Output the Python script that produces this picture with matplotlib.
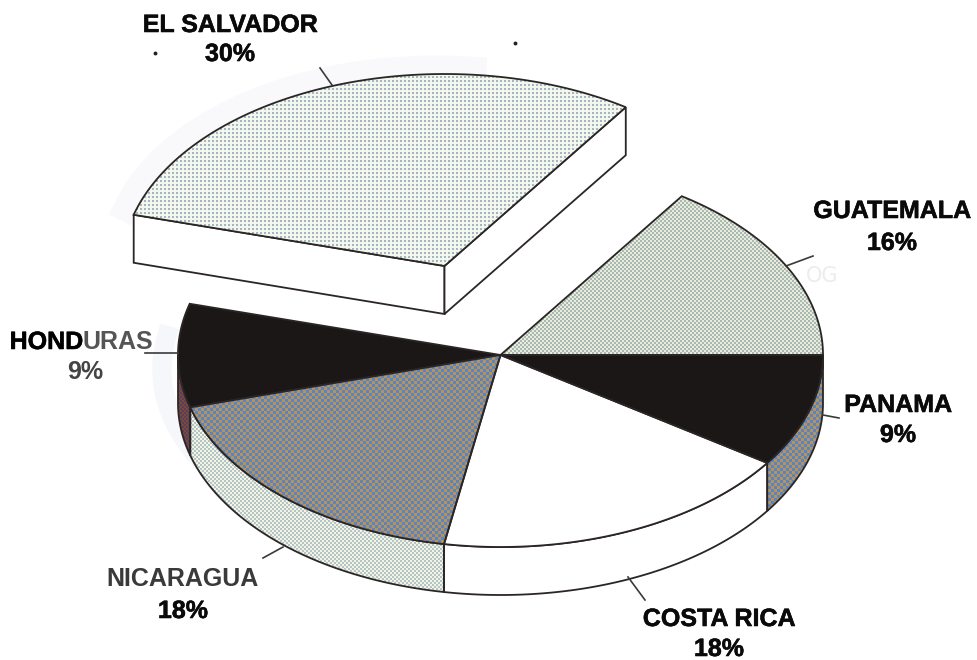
import numpy as np
import matplotlib
matplotlib.use("Agg")
import matplotlib.pyplot as plt
import matplotlib.patheffects as pe
from matplotlib.patches import Polygon

# slices in drawing order, counter clockwise from east
countries = ["GUATEMALA", "EL SALVADOR", "HONDURAS", "NICARAGUA", "COSTA RICA", "PANAMA"]
percent_labels = ["16%", "30%", "9%", "18%", "18%", "9%"]
shares = [15.5, 30.2, 8.7, 17.8, 18.3, 9.5]
exploded = "EL SALVADOR"

W, H = 978, 660
cx, cy, rx, ry = 500.5, 355, 322.5, 192
depth = 48
explode_dx, explode_dy = -56, -89
ink = "#2b2526"

top_style = {"GUATEMALA": "light", "EL SALVADOR": "dots", "HONDURAS": "black",
             "NICARAGUA": "mixed", "COSTA RICA": "white", "PANAMA": "black"}
side_style = {"HONDURAS": "dark", "NICARAGUA": "pale", "COSTA RICA": "white", "PANAMA": "mixed"}


def screen(period, a, b):
    """Two colour dither covering the whole canvas"""
    yy, xx = np.mgrid[0:H, 0:W]
    mask = ((xx // period + yy // period) % 2 == 0)[..., None]
    return mask * np.array(matplotlib.colors.to_rgb(a)) + (~mask) * np.array(matplotlib.colors.to_rgb(b))


def dot_screen(period, a, b):
    yy, xx = np.mgrid[0:H, 0:W]
    mask = ((xx % period < 2) & (yy % period < 2))[..., None]
    return mask * np.array(matplotlib.colors.to_rgb(a)) + (~mask) * np.array(matplotlib.colors.to_rgb(b))


textures = {
    "light": screen(2, "#a9b8b4", "#e8eeda"),
    "pale": screen(2, "#b4c4c8", "#f2f5e2"),
    "mixed": screen(3, "#5585c4", "#bc9258"),
    "dots": dot_screen(4, "#a3b6c2", "#f4f7ee"),
    "dark": screen(2, "#5a3f5c", "#7a4a3a"),
}
solids = {"black": "#1b1716", "white": "#ffffff"}


def arc(t0, t1, dx=0, dy=0, drop=0):
    t = np.radians(np.linspace(t0, t1, 80))
    return np.column_stack([cx + dx + rx * np.cos(t), cy + dy + drop - ry * np.sin(t)])


def fill(ax, pts, style, z):
    if style in solids:
        ax.add_patch(Polygon(pts, closed=True, fc=solids[style], ec=ink, lw=1.3, zorder=z))
        return
    p = Polygon(pts, closed=True, fc="none", ec=ink, lw=1.3, zorder=z + 0.5)
    ax.add_patch(p)
    im = ax.imshow(textures[style], extent=(0, W, H, 0), interpolation="bilinear",
                   aspect="auto", zorder=z)
    im.set_clip_path(p)


fig = plt.figure(figsize=(W / 100, H / 100), dpi=100)
ax = fig.add_axes([0, 0, 1, 1])

edges = np.concatenate([[0], np.cumsum(shares)]) / sum(shares) * 360
centre = np.array([cx, cy])

for i, name in enumerate(countries):
    t0, t1 = edges[i], edges[i + 1]
    if name == exploded:
        dx, dy = explode_dx, explode_dy
        off = np.array([dx, dy])
        top = arc(t0, t1, dx, dy)
        apex = centre + off
        down = np.array([0, depth])
        # faint show-through halo from the back of the page
        ax.plot(top[20:, 0] - 8, top[20:, 1] - 6, color="#f9f9fb", lw=18, zorder=0.5)
        # the two cut faces of the lifted slice
        fill(ax, np.array([top[-1], apex, apex + down, top[-1] + down]), "white", 5)
        fill(ax, np.array([apex, top[0], top[0] + down, apex + down]), "white", 5)
        fill(ax, np.vstack([[apex], top]), top_style[name], 6)
        continue
    # rim only shows on the near half of the ellipse
    s0, s1 = max(t0, 180), min(t1, 360)
    if s1 > s0:
        rim = np.vstack([arc(s0, s1), arc(s0, s1, drop=depth)[::-1]])
        fill(ax, rim, side_style[name], 2)
    fill(ax, np.vstack([[centre], arc(t0, t1)]), top_style[name], 3)

# show-through left of the pie
halo = arc(170, 210)
ax.plot(halo[:, 0] - 16, halo[:, 1] + 14, color="#f6f7fb", lw=14, zorder=0.5)
ax.text(822, 276, "OG", size=15, color="#ececee", ha="center", va="center", zorder=0.5)

# leader lines
leader_x = [(320, 332), (813, 786), (839, 823), (145, 178), (263, 283), (645, 628)]
leader_y = [(68, 85), (256, 266), (418, 415), (353, 353), (558, 547), (600, 577)]
for xs, ys in zip(leader_x, leader_y):
    ax.plot(xs, ys, color="#3a3a3a", lw=1.2, zorder=4)

# print specks
ax.plot([155, 515], [53, 43], ls="none", marker="o", ms=1.8, color="#222222")

font = {"family": "Liberation Sans", "weight": "bold", "ha": "center", "va": "center"}
label_x = {"EL SALVADOR": 230, "GUATEMALA": 892, "PANAMA": 898,
           "COSTA RICA": 719, "NICARAGUA": 183, "HONDURAS": 85}
label_y = {"EL SALVADOR": (25, 54), "GUATEMALA": (211, 243), "PANAMA": (405, 435),
           "COSTA RICA": (619, 649), "NICARAGUA": (579, 611), "HONDURAS": (342, 372)}
heavy = [pe.withStroke(linewidth=0.4, foreground="#0a0a0a")]
for name, pct in zip(countries, percent_labels):
    x = label_x[name]
    y0, y1 = label_y[name]
    if name == "HONDURAS":
        # left half of this word printed much heavier
        ax.text(x - 2, y0, "HOND", size=18, color="#000000", path_effects=heavy, **{**font, "ha": "right"})
        ax.text(x - 2, y0, "URAS", size=18, color="#555555", **{**font, "ha": "left"})
        ax.text(x, y1, pct, size=18, color="#444444", **font)
    elif name == "NICARAGUA":
        ax.text(x, y0, name, size=18, color="#3a3a3a", **font)
        ax.text(x, y1, pct, size=18, color="#0a0a0a", path_effects=heavy, **font)
    else:
        ax.text(x, y0, name, size=18, color="#0a0a0a", path_effects=heavy, **font)
        ax.text(x, y1, pct, size=18, color="#0a0a0a", path_effects=heavy, **font)

ax.set_xlim(0, W)
ax.set_ylim(H, 0)
ax.axis("off")
fig.savefig("out.png", dpi=100)
